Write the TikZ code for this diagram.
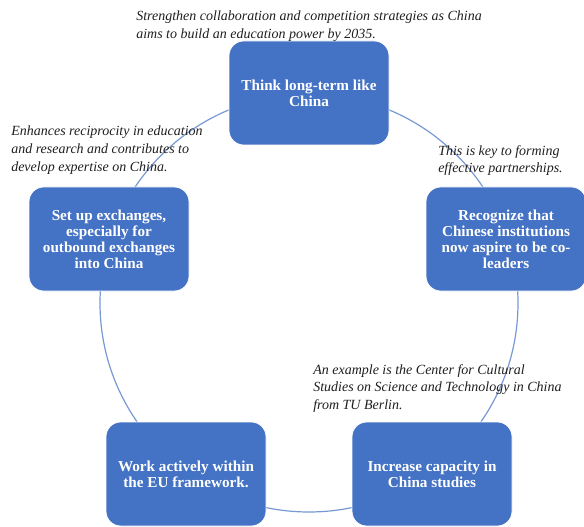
\documentclass[tikz,border=0pt]{standalone}
\usepackage{fontspec}
\setmainfont{Liberation Serif}
\definecolor{boxblue}{RGB}{68,114,196}
\definecolor{ringblue}{RGB}{120,152,212}
\definecolor{notegray}{RGB}{30,30,30}
\tikzset{
  stepbox/.style={rectangle, rounded corners=11pt, fill=boxblue, draw=white,
    line width=0.6pt, minimum width=120pt, minimum height=78pt, text=white,
    align=center, inner sep=2pt, font=\bfseries\fontsize{11.4}{12}\selectfont},
  note/.style={anchor=north west, align=left, inner sep=0pt, text=notegray,
    font=\itshape\fontsize{10.5}{13.4}\selectfont},
}

\begin{document}
\begin{tikzpicture}[x=0.75pt,y=-0.75pt]
			%%%%% START %%%%%
			\useasboundingbox (0,0) rectangle (584,527);
			
			\coordinate (hub) at (309,303);
			\draw[ringblue, line width=0.9pt] (hub) circle [radius=156.75pt];
			
			\node[stepbox] (think) at (309,93) {Think long-term like\\China};
			\node[stepbox] (recognize) at (506,239) {Recognize that\\Chinese institutions\\now aspire to be co-\\leaders};
			\node[stepbox] (capacity) at (432,474) {Increase capacity in\\China studies};
			\node[stepbox] (eu) at (186,474) {Work actively within\\the EU framework.};
			\node[stepbox] (exchange) at (109,239) {Set up exchanges,\\especially for\\outbound exchanges\\into China};
			
			\node[note] (thinknote) at (136,11) {Strengthen collaboration and competition strategies as China\\aims to build an education power by 2035.};
			\node[note] (recognizenote) at (438,145) {This is key to forming\\effective partnerships.};
			\node[note] (capacitynote) at (313,364) {An example is the Center for Cultural\\Studies on Science and Technology in China\\from TU Berlin.};
			\node[note] (exchangenote) at (11,126) {Enhances reciprocity in education\\and research and contributes to\\develop expertise on China.};
			
			%%%%% END %%%%%
\end{tikzpicture}
\end{document}
